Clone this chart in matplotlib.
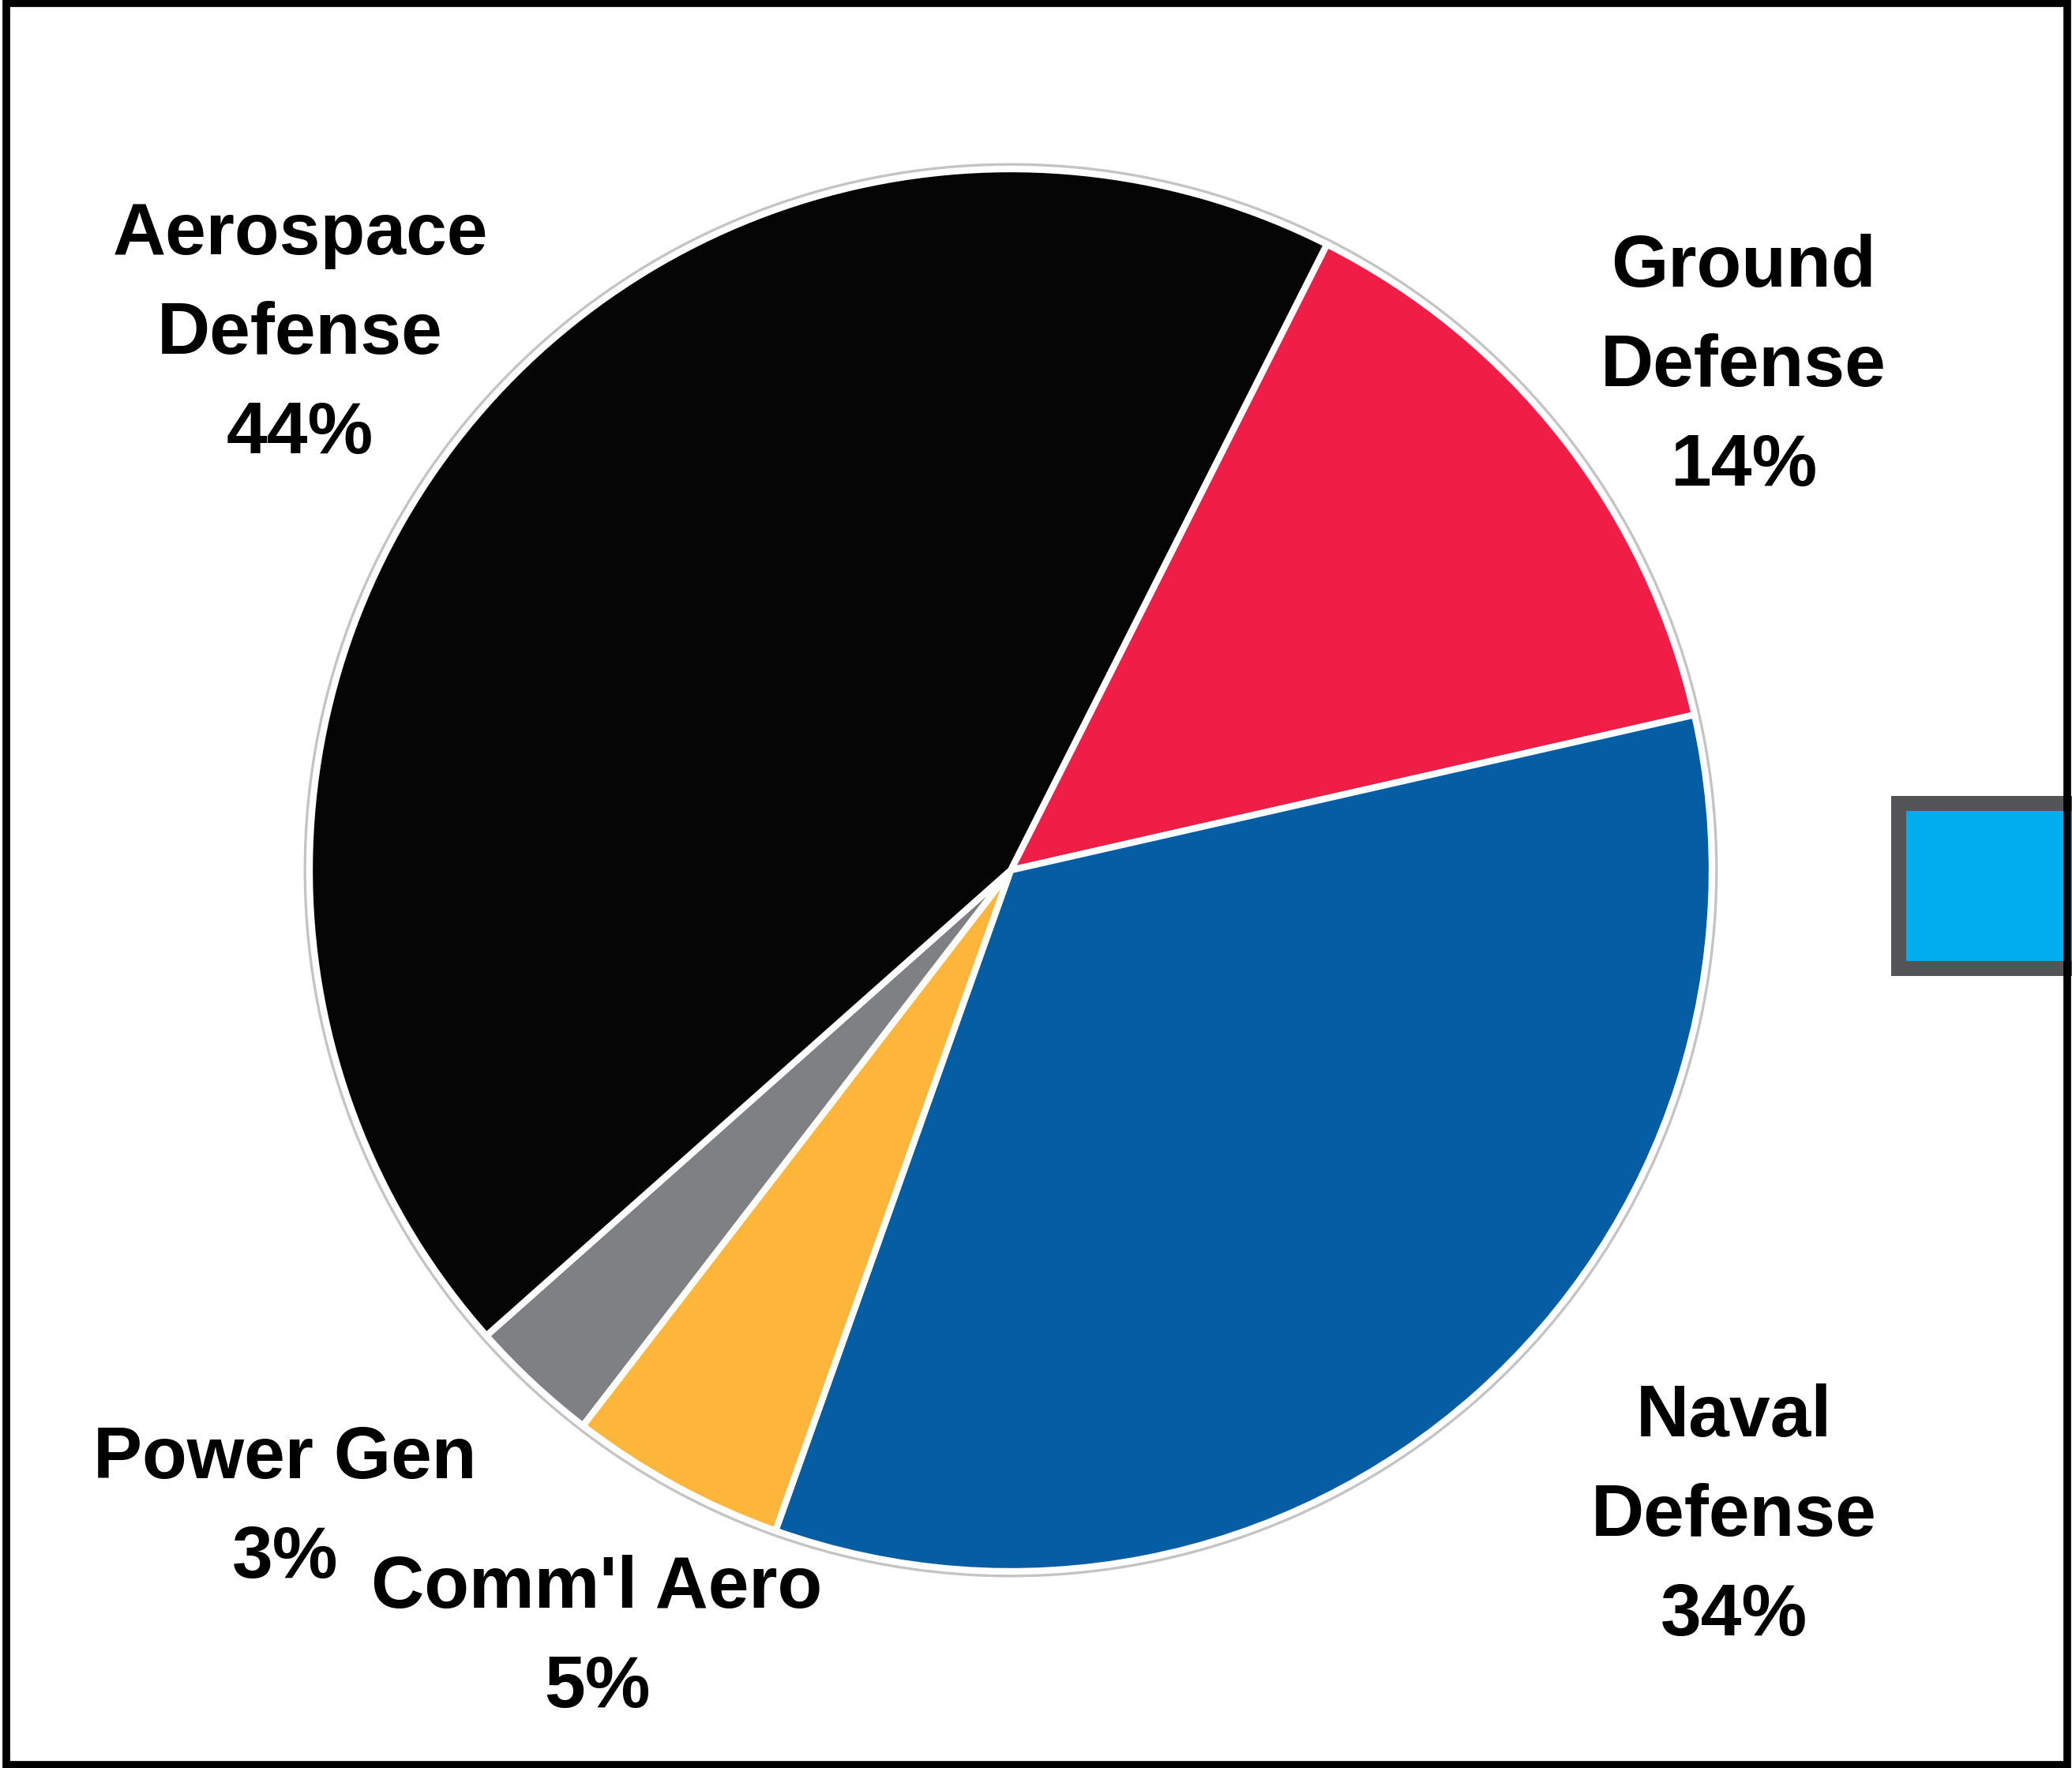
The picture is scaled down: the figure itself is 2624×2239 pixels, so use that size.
import matplotlib
matplotlib.use("Agg")
import matplotlib.pyplot as plt
from matplotlib.patches import Rectangle, Circle
from matplotlib import font_manager as fm

# ---- data ----
categories = ["Ground\nDefense", "Naval\nDefense", "Comm'l Aero", "Power Gen", "Aerospace\nDefense"]
shares = [14, 34, 5, 3, 44]
colors = ["#F01E46", "#055DA4", "#FDB63A", "#7E8083", "#050505"]
label_text = ["Ground\nDefense\n14%", "Naval\nDefense\n34%", "Comm'l Aero\n5%", "Power Gen\n3%",
              "Aerospace\nDefense\n44%"]

W, H = 2624, 2239
fig = plt.figure(figsize=(W / 100, H / 100), dpi=100)
ax = fig.add_axes([0, 0, 1, 1])

cx, cy, r = 1280, H - 1102, 888

# outer gray rim
ax.add_patch(Circle((cx, cy), r + 4, facecolor="none", edgecolor="#C4C4C4", lw=5, zorder=1))

wedges, _ = ax.pie(shares, colors=colors, startangle=63.2, counterclock=False,
                   center=(cx, cy), radius=r, frame=True,
                   wedgeprops=dict(edgecolor="white", linewidth=6))
ax.set_xlim(0, W)
ax.set_ylim(0, H)
ax.set_aspect("equal")
ax.axis("off")

names = {f.name for f in fm.fontManager.ttflist}
if "Liberation Sans Narrow" in names:
    fam, fsz, ls = ["Liberation Sans Narrow", "DejaVu Sans"], 83, 1.08
else:
    fam, fsz, ls = ["Liberation Sans", "DejaVu Sans"], 67, 1.6

label_pos = [(2208, 465), (2196, 1921), (756, 2075), (361, 1911), (380, 424)]
for txt, (x, y) in zip(label_text, label_pos):
    ax.text(x, H - y, txt, ha="center", va="center", fontsize=fsz, fontweight="bold",
            family=fam, linespacing=ls, color="black", zorder=5)

# cyan box at right edge (clipped)
ax.add_patch(Rectangle((2395, H - 1236), 400, 228, facecolor="#535456", edgecolor="none", zorder=3))
ax.add_patch(Rectangle((2414, H - 1217), 400, 190, facecolor="#00AEEF", edgecolor="none", zorder=4))

# figure frame
fig.patches.append(Rectangle((8 / W, 4 / H), (W - 14) / W, (H - 8) / H, transform=fig.transFigure,
                             facecolor="none", edgecolor="black", lw=7, zorder=10))

fig.savefig("out.png", dpi=100)
